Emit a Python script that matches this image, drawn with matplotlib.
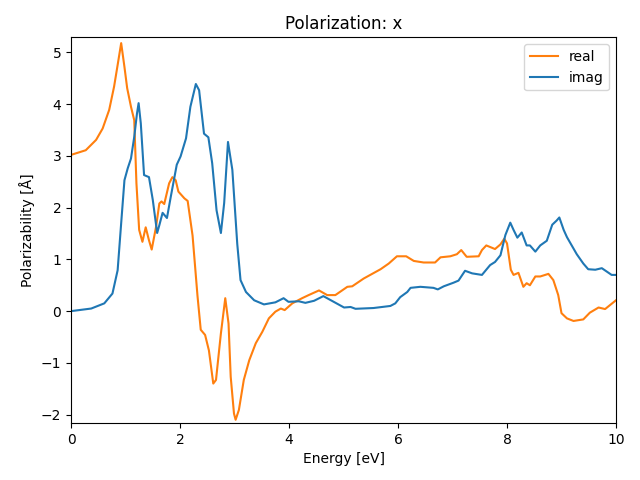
import numpy as np
import matplotlib.pyplot as plt

# energia [eV] e parte real
e_real = [0.0, 0.27, 0.46, 0.58, 0.70, 0.79, 0.86, 0.92, 0.98, 1.03, 1.10, 1.16, 1.20, 1.25,
          1.31, 1.37, 1.43, 1.48, 1.56, 1.62, 1.66, 1.71, 1.80, 1.86, 1.92, 1.97, 2.08, 2.14,
          2.23, 2.32, 2.38, 2.46, 2.53, 2.61, 2.66, 2.75, 2.83, 2.89, 2.93, 2.99, 3.02, 3.08,
          3.17, 3.27, 3.39, 3.51, 3.63, 3.75, 3.85, 3.92, 4.06, 4.24, 4.36, 4.55, 4.70, 4.85,
          5.07, 5.16, 5.37, 5.68, 5.83, 5.98, 6.04, 6.15, 6.29, 6.47, 6.68, 6.78, 6.96, 7.08,
          7.16, 7.26, 7.48, 7.54, 7.62, 7.78, 7.88, 7.95, 8.00, 8.07, 8.12, 8.21, 8.30, 8.36,
          8.42, 8.52, 8.61, 8.76, 8.85, 8.94, 9.00, 9.10, 9.22, 9.40, 9.52, 9.68, 9.80, 10.0]
real = [3.02, 3.11, 3.31, 3.53, 3.89, 4.34, 4.79, 5.18, 4.72, 4.31, 3.95, 3.69, 2.47, 1.57,
        1.34, 1.62, 1.37, 1.19, 1.63, 2.08, 2.12, 2.07, 2.47, 2.59, 2.53, 2.31, 2.18, 2.13,
        1.46, 0.30, -0.36, -0.46, -0.76, -1.40, -1.33, -0.43, 0.25, -0.24, -1.27, -1.98, -2.10, -1.91,
        -1.33, -0.95, -0.62, -0.40, -0.14, -0.01, 0.05, 0.02, 0.15, 0.25, 0.31, 0.40, 0.31, 0.31,
        0.47, 0.48, 0.63, 0.81, 0.92, 1.06, 1.06, 1.06, 0.97, 0.94, 0.94, 1.04, 1.06, 1.10,
        1.18, 1.05, 1.06, 1.18, 1.27, 1.20, 1.29, 1.40, 1.31, 0.80, 0.70, 0.74, 0.47, 0.54,
        0.50, 0.67, 0.67, 0.72, 0.60, 0.31, -0.04, -0.14, -0.19, -0.16, -0.03, 0.07, 0.04, 0.21]

# energia [eV] e parte imaginaria
e_imag = [0.0, 0.37, 0.61, 0.76, 0.855, 0.92, 0.98, 1.04, 1.10, 1.16, 1.21, 1.24, 1.28, 1.34,
          1.43, 1.50, 1.58, 1.62, 1.68, 1.76, 1.83, 1.94, 2.01, 2.11, 2.19, 2.29, 2.35, 2.44,
          2.52, 2.59, 2.67, 2.75, 2.81, 2.88, 2.96, 3.05, 3.11, 3.21, 3.36, 3.54, 3.75, 3.90,
          3.99, 4.18, 4.30, 4.46, 4.63, 4.82, 5.01, 5.13, 5.22, 5.55, 5.86, 5.95, 6.04, 6.17,
          6.23, 6.41, 6.65, 6.73, 6.84, 7.02, 7.11, 7.23, 7.36, 7.54, 7.69, 7.78, 7.88, 7.97,
          8.06, 8.12, 8.19, 8.27, 8.36, 8.42, 8.52, 8.61, 8.73, 8.83, 8.91, 8.96, 9.04, 9.10,
          9.28, 9.40, 9.49, 9.62, 9.74, 9.92, 10.0]
imag = [0.0, 0.05, 0.15, 0.34, 0.79, 1.70, 2.53, 2.76, 2.95, 3.37, 3.82, 4.02, 3.63, 2.63,
        2.59, 2.15, 1.51, 1.66, 1.90, 1.80, 2.21, 2.83, 2.99, 3.34, 3.95, 4.39, 4.27, 3.43,
        3.36, 2.86, 1.95, 1.51, 2.09, 3.27, 2.73, 1.30, 0.60, 0.37, 0.21, 0.13, 0.17, 0.25,
        0.18, 0.19, 0.16, 0.20, 0.29, 0.18, 0.07, 0.08, 0.045, 0.06, 0.10, 0.15, 0.27, 0.37,
        0.45, 0.47, 0.45, 0.42, 0.48, 0.55, 0.59, 0.78, 0.73, 0.70, 0.89, 0.95, 1.08, 1.47,
        1.71, 1.57, 1.42, 1.52, 1.27, 1.27, 1.15, 1.27, 1.36, 1.67, 1.75, 1.81, 1.57, 1.43,
        1.10, 0.92, 0.81, 0.80, 0.83, 0.70, 0.70]

fig, ax = plt.subplots(figsize=(6.4, 4.8), dpi=100)
ax.plot(e_real, real, color='C1', label='real')
ax.plot(e_imag, imag, color='C0', label='imag')
ax.set_xlim(0, 10)
ax.set_ylim(-2.16, 5.29)
ax.set_title('Polarization: x')
ax.set_xlabel('Energy [eV]')
ax.set_ylabel('Polarizability [Å]')
ax.legend(loc='upper right')
fig.subplots_adjust(left=0.111, right=0.9625, top=0.922, bottom=0.119)
fig.savefig('out.png')
